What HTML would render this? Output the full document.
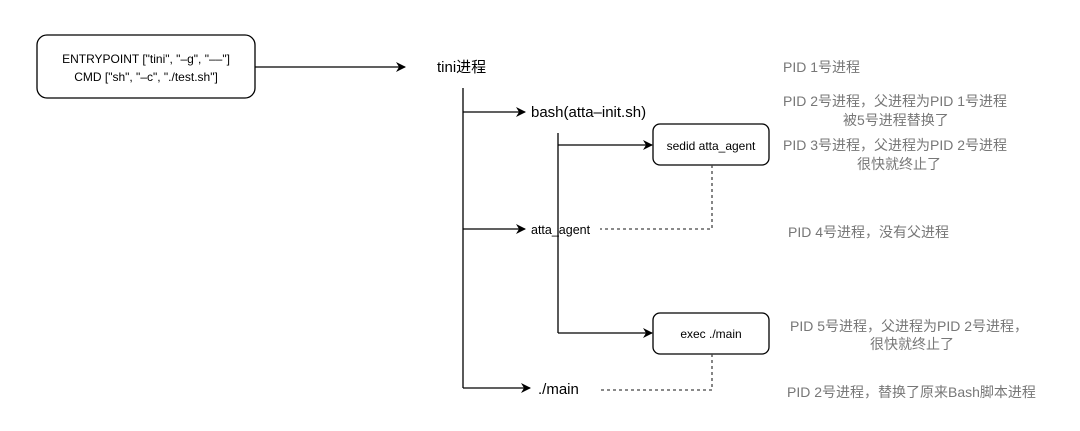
<!DOCTYPE html>
<html><head><meta charset="utf-8"><style>
html,body{margin:0;padding:0;background:#fff;width:1080px;height:431px;overflow:hidden}
svg{display:block}
text{font-family:"Liberation Sans","Noto Sans CJK SC",sans-serif}
</style></head><body>
<svg width="1080" height="431" viewBox="0 0 1080 431">
<defs><marker id="a" viewBox="0 0 10 10" refX="9" refY="5" markerWidth="10" markerHeight="10" markerUnits="userSpaceOnUse" orient="auto"><path d="M0,0 L10,5 L0,10 L3,5 Z" fill="#000"/></marker></defs>
<g fill="none" stroke="#000" stroke-width="1.3">
<rect x="37" y="35" width="218" height="63" rx="10" fill="#fff"/>
<line x1="255" y1="67" x2="405" y2="67" marker-end="url(#a)"/>
<line x1="463" y1="88" x2="463" y2="388"/>
<line x1="463" y1="112" x2="525" y2="112" marker-end="url(#a)"/>
<line x1="463" y1="229" x2="525" y2="229" marker-end="url(#a)"/>
<polyline points="463,388 530,388" marker-end="url(#a)"/>
<line x1="558" y1="133" x2="558" y2="333"/>
<line x1="558" y1="145" x2="652" y2="145" marker-end="url(#a)"/>
<line x1="558" y1="333" x2="652" y2="333" marker-end="url(#a)"/>
<rect x="653" y="124" width="116" height="41" rx="7" fill="#fff"/>
<rect x="653" y="313" width="116" height="41" rx="7" fill="#fff"/>
<polyline points="712,165 712,229 600,229" stroke-dasharray="3,3" stroke="#444"/>
<polyline points="712,354 712,390 600,390" stroke-dasharray="3,3" stroke="#444"/>
</g>
<g fill="#000" font-size="12" text-anchor="middle">
<text x="146" y="63">ENTRYPOINT ["tini", "–g", "––"]</text>
<text x="146" y="81">CMD ["sh", "–c", "./test.sh"]</text>
<text x="711" y="150">sedid atta_agent</text>
<text x="711" y="338">exec ./main</text>
</g>
<g fill="#000">
<text x="437" y="72" font-size="15">tini进程</text>
<text x="531" y="117" font-size="15">bash(atta–init.sh)</text>
<text x="531" y="234" font-size="12.5">atta_agent</text>
<text x="538" y="394" font-size="15">./main</text>
</g>
<g fill="#777" font-size="14">
<text x="783" y="72">PID 1号进程</text>
<text x="783" y="106">PID 2号进程，父进程为PID 1号进程</text>
<text x="843" y="125">被5号进程替换了</text>
<text x="783" y="150">PID 3号进程，父进程为PID 2号进程</text>
<text x="857" y="169">很快就终止了</text>
<text x="788" y="237">PID 4号进程，没有父进程</text>
<text x="790" y="331">PID 5号进程，父进程为PID 2号进程，</text>
<text x="870" y="349">很快就终止了</text>
<text x="787" y="397">PID 2号进程，替换了原来Bash脚本进程</text>
</g>
</svg>
</body></html>
